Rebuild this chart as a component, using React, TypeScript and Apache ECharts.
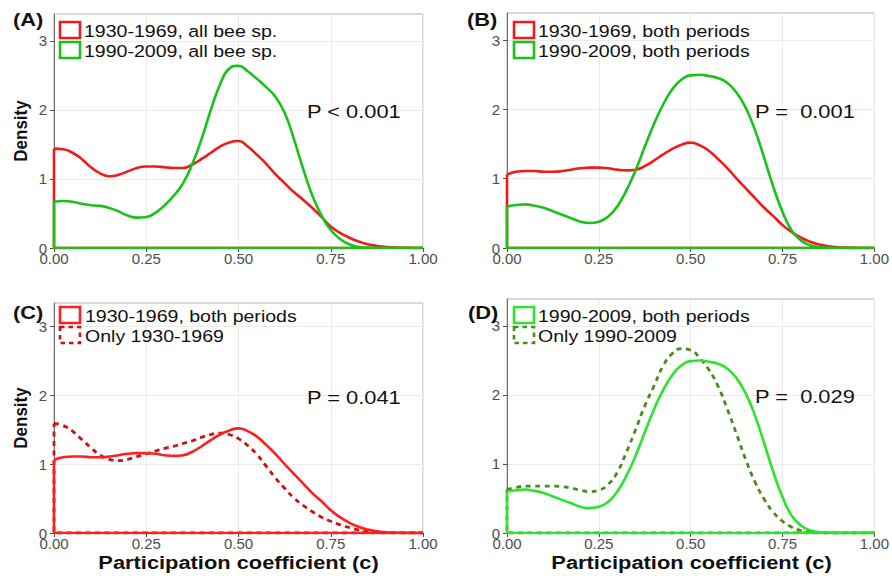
import React, { useEffect, useRef } from "react";
import * as echarts from "echarts";

// Participation coefficient grid (density evaluated at these points)
const X = [0, 0.025, 0.05, 0.075, 0.1, 0.125, 0.15, 0.175, 0.2, 0.225, 0.25, 0.275, 0.3, 0.325, 0.35, 0.375, 0.4, 0.425, 0.45, 0.475, 0.5, 0.525, 0.55, 0.575, 0.6, 0.625, 0.65, 0.675, 0.7, 0.725, 0.75, 0.775, 0.8, 0.825, 0.85, 0.875, 0.9, 0.925, 0.95, 0.975, 1];

// (A) all bee species
const redAll = [1.44, 1.43, 1.38, 1.29, 1.17, 1.08, 1.04, 1.06, 1.11, 1.16, 1.18, 1.18, 1.17, 1.16, 1.16, 1.21, 1.29, 1.38, 1.47, 1.53, 1.55, 1.47, 1.35, 1.22, 1.07, 0.94, 0.81, 0.7, 0.58, 0.45, 0.31, 0.22, 0.15, 0.095, 0.055, 0.03, 0.015, 0.007, 0.003, 0.001, 0];
const greenAll = [0.67, 0.68, 0.67, 0.64, 0.62, 0.61, 0.58, 0.53, 0.47, 0.44, 0.45, 0.51, 0.62, 0.76, 0.94, 1.22, 1.58, 2.0, 2.37, 2.6, 2.64, 2.56, 2.45, 2.33, 2.19, 1.96, 1.58, 1.15, 0.76, 0.47, 0.26, 0.13, 0.055, 0.018, 0.005, 0.001, 0, 0, 0, 0, 0];

// (B) species present in both periods
const redBoth = [1.06, 1.1, 1.11, 1.11, 1.1, 1.1, 1.11, 1.13, 1.15, 1.16, 1.16, 1.15, 1.13, 1.12, 1.13, 1.18, 1.26, 1.35, 1.43, 1.49, 1.52, 1.48, 1.4, 1.28, 1.15, 1.0, 0.86, 0.72, 0.58, 0.46, 0.33, 0.23, 0.15, 0.09, 0.05, 0.025, 0.011, 0.004, 0.001, 0, 0];
const greenBoth = [0.6, 0.62, 0.63, 0.61, 0.58, 0.53, 0.48, 0.43, 0.38, 0.36, 0.38, 0.45, 0.6, 0.83, 1.12, 1.46, 1.79, 2.07, 2.29, 2.43, 2.49, 2.5, 2.48, 2.45, 2.38, 2.24, 2.02, 1.7, 1.3, 0.88, 0.52, 0.25, 0.11, 0.04, 0.012, 0.003, 0, 0, 0, 0, 0];

// (C), (D) species found in one period only
const redOnly = [1.59, 1.56, 1.48, 1.36, 1.24, 1.13, 1.07, 1.05, 1.07, 1.11, 1.15, 1.19, 1.23, 1.26, 1.3, 1.34, 1.39, 1.43, 1.45, 1.43, 1.37, 1.27, 1.14, 0.97, 0.8, 0.65, 0.51, 0.4, 0.31, 0.23, 0.17, 0.12, 0.08, 0.045, 0.022, 0.01, 0.003, 0.001, 0, 0, 0];
const greenOnly = [0.63, 0.66, 0.68, 0.68, 0.68, 0.68, 0.67, 0.65, 0.62, 0.6, 0.62, 0.7, 0.88, 1.17, 1.5, 1.84, 2.13, 2.42, 2.6, 2.67, 2.65, 2.53, 2.36, 2.12, 1.79, 1.43, 1.06, 0.74, 0.49, 0.3, 0.17, 0.085, 0.035, 0.012, 0.003, 0, 0, 0, 0, 0, 0];

const xTicks = [0, 0.25, 0.5, 0.75, 1];
const yTicks = [0, 1, 2, 3];

const panelTags = ["(A)", "(B)", "(C)", "(D)"];
const pLabels = ["P < 0.001", "P =  0.001", "P = 0.041", "P =  0.029"];
const xTitle = "Participation coefficient (c)";
const yTitle = "Density";

const RED = "#f01a1a";
const RED_BRIGHT = "#ff1f1f";
const RED_DARK = "#cc1111";
const GREEN = "#19c219";
const GREEN_BRIGHT = "#2ee22e";
const OLIVE = "#4b8a1c";

const FONT = "'Liberation Sans', Arial, sans-serif";
const STRETCH = 1.15;

type Curve = { name: string; values: number[]; color: string; dashed: boolean };

const panels: { curves: Curve[]; legend: Curve[] }[] = [
  {
    curves: [
      { name: "1930-1969, all bee sp.", values: redAll, color: RED, dashed: false },
      { name: "1990-2009, all bee sp.", values: greenAll, color: GREEN, dashed: false },
    ],
    legend: [],
  },
  {
    curves: [
      { name: "1930-1969, both periods", values: redBoth, color: RED, dashed: false },
      { name: "1990-2009, both periods", values: greenBoth, color: GREEN, dashed: false },
    ],
    legend: [],
  },
  {
    curves: [
      { name: "Only 1930-1969", values: redOnly, color: RED_DARK, dashed: true },
      { name: "1930-1969, both periods", values: redBoth, color: RED_BRIGHT, dashed: false },
    ],
    legend: [],
  },
  {
    curves: [
      { name: "Only 1990-2009", values: greenOnly, color: OLIVE, dashed: true },
      { name: "1990-2009, both periods", values: greenBoth, color: GREEN_BRIGHT, dashed: false },
    ],
    legend: [],
  },
];
panels[0].legend = panels[0].curves;
panels[1].legend = panels[1].curves;
panels[2].legend = [panels[2].curves[1], panels[2].curves[0]];
panels[3].legend = [panels[3].curves[1], panels[3].curves[0]];

// plot rectangles of the four panels
const grids = [
  { left: 54, top: 14, width: 369, height: 234 },
  { left: 507, top: 13, width: 369, height: 235 },
  { left: 54, top: 303, width: 369, height: 230 },
  { left: 507, top: 299, width: 369, height: 234 },
];
const yMax = [3.39, 3.39, 3.34, 3.39];

function buildOption() {
  const grid = grids.map((g) => ({
    ...g,
    show: true,
    borderColor: "#b3b3b3",
    borderWidth: 1,
    backgroundColor: "#ffffff",
    containLabel: false,
  }));

  const xAxis = grids.map((_, i) => ({
    type: "value",
    gridIndex: i,
    min: 0,
    max: 1,
    interval: 0.125,
    axisLine: { show: true, onZero: false, lineStyle: { color: "#6e6e6e", width: 1 } },
    axisTick: { show: true, customValues: xTicks, length: 4, lineStyle: { color: "#4d4d4d" } },
    axisLabel: {
      customValues: xTicks,
      formatter: (v: number) => v.toFixed(2),
      color: "#4d4d4d",
      fontSize: 15,
      fontFamily: FONT,
      margin: 3,
    },
    splitLine: { show: true, lineStyle: { color: "#ebebeb", width: 1 } },
  }));

  const yAxis = grids.map((_, i) => ({
    type: "value",
    gridIndex: i,
    min: 0,
    max: yMax[i],
    interval: 0.5,
    axisLine: { show: true, onZero: false, lineStyle: { color: "#6e6e6e", width: 1 } },
    axisTick: { show: true, customValues: yTicks, length: 4, lineStyle: { color: "#4d4d4d" } },
    axisLabel: {
      customValues: yTicks,
      formatter: (v: number) => String(v),
      color: "#4d4d4d",
      fontSize: 15,
      fontFamily: FONT,
      margin: 7,
    },
    splitLine: { show: true, lineStyle: { color: "#ebebeb", width: 1 } },
  }));

  const series: any[] = [];
  panels.forEach((p, i) => {
    p.curves.forEach((c) => {
      const lineStyle = {
        color: c.color,
        width: c.dashed ? 2.8 : 2.6,
        type: c.dashed ? [5, 4.5] : "solid",
        cap: "butt",
        join: "round",
      };
      // outline of the density polygon: baseline and left edge
      series.push({
        type: "line",
        xAxisIndex: i,
        yAxisIndex: i,
        data: [
          [X[X.length - 1], 0],
          [X[0], 0],
          [X[0], c.values[0]],
        ],
        showSymbol: false,
        silent: true,
        lineStyle,
        clip: true,
      });
      series.push({
        type: "line",
        name: c.name,
        xAxisIndex: i,
        yAxisIndex: i,
        data: X.map((x, k) => [x, c.values[k]]),
        smooth: 0.5,
        showSymbol: false,
        silent: true,
        lineStyle,
        clip: true,
      });
    });
  });

  const graphic: any[] = [];
  const textStyle = (text: string, size: number, weight: string, align = "left") => ({
    text,
    fontSize: size,
    fontFamily: FONT,
    fontWeight: weight,
    fill: "#111111",
    align,
    verticalAlign: "middle",
    textAlign: align,
    textVerticalAlign: "middle",
  });

  // panel tags
  const tagPos = [
    [13, 19],
    [467, 19],
    [13, 312],
    [468, 312],
  ];
  panelTags.forEach((t, i) => {
    graphic.push({
      type: "text",
      x: tagPos[i][0],
      y: tagPos[i][1],
      scaleX: STRETCH,
      z: 100,
      style: textStyle(t, 19, "bold"),
    });
  });

  // legends
  const legendPos = [
    { bx: 60, by: 22, tx: 84, ty: 31 },
    { bx: 514, by: 22, tx: 538, ty: 31 },
    { bx: 60, by: 307, tx: 85, ty: 316 },
    { bx: 514, by: 307, tx: 538, ty: 316 },
  ];
  panels.forEach((p, i) => {
    const lp = legendPos[i];
    p.legend.forEach((c, k) => {
      graphic.push({
        type: "rect",
        shape: { x: lp.bx, y: lp.by + k * 20, width: 20, height: 16 },
        z: 100,
        style: {
          fill: "#ffffff",
          stroke: c.color,
          lineWidth: 2.6,
          lineDash: c.dashed ? [4.5, 4] : null,
        },
      });
      graphic.push({
        type: "text",
        x: lp.tx,
        y: lp.ty + k * 20,
        scaleX: STRETCH,
        z: 100,
        style: textStyle(c.name, 17, "normal"),
      });
    });
  });

  // test statistics
  const pPos = [
    [307, 111],
    [755, 111],
    [307, 397],
    [755, 396],
  ];
  pLabels.forEach((t, i) => {
    graphic.push({
      type: "text",
      x: pPos[i][0],
      y: pPos[i][1],
      scaleX: STRETCH,
      z: 100,
      style: textStyle(t, 19, "normal"),
    });
  });

  // axis titles
  [0, 1].forEach((col) => {
    const g = grids[2 + col];
    const cx = g.left + g.width / 2;
    graphic.push({
      type: "text",
      x: cx,
      y: 562,
      scaleX: STRETCH,
      z: 100,
      style: textStyle(xTitle, 19, "bold", "center"),
    });
  });
  [0, 2].forEach((gi) => {
    const g = grids[gi];
    graphic.push({
      type: "text",
      x: 21,
      y: g.top + g.height / 2,
      rotation: Math.PI / 2,
      scaleY: 1.1,
      z: 100,
      style: textStyle(yTitle, 17, "bold", "center"),
    });
  });

  return {
    animation: false,
    backgroundColor: "#ffffff",
    grid,
    xAxis,
    yAxis,
    series,
    graphic,
  };
}

export default function App() {
  const ref = useRef<HTMLDivElement>(null);

  useEffect(() => {
    if (!ref.current) return;
    const chart = echarts.init(ref.current, undefined, { renderer: "svg" });
    chart.setOption(buildOption() as any);
    return () => chart.dispose();
  }, []);

  return (
    <div
      ref={ref}
      style={{ position: "fixed", left: 0, top: 0, width: 892, height: 581, background: "#ffffff" }}
    />
  );
}
